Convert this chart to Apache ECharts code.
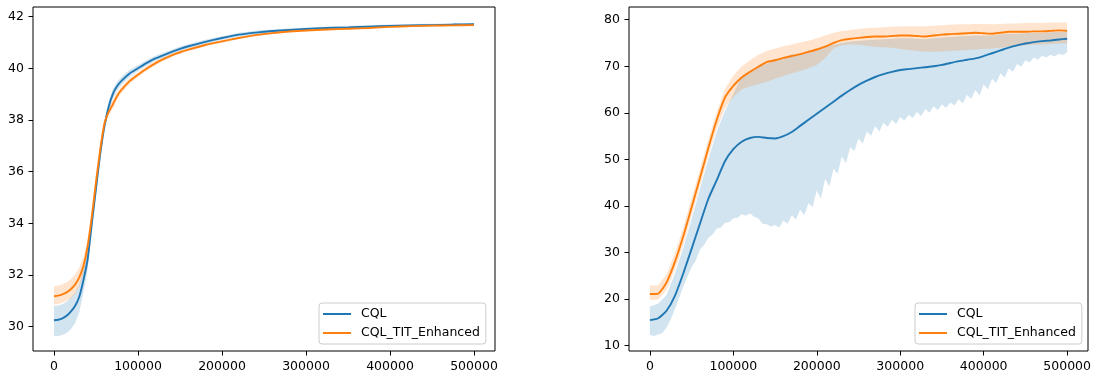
<!DOCTYPE html>
<html>
<head>
<meta charset="utf-8">
<script src="https://cdn.jsdelivr.net/npm/echarts@6/dist/echarts.min.js"></script>
<style>
  html, body { margin: 0; padding: 0; background: #fff; }
  #chart { width: 1094px; height: 373px; }
</style>
</head>
<body>
<div id="chart"></div>
<script>
// left panel
const stepsL = [0, 5000, 10000, 15000, 20000, 25000, 30000, 35000, 40000, 45000, 50000, 55000, 60000, 65000,
  70000, 75000, 80000, 90000, 100000, 110000, 120000, 130000, 140000, 150000, 160000, 180000, 200000, 220000,
  240000, 260000, 280000, 300000, 325000, 350000, 375000, 400000, 425000, 450000, 475000, 500000];
const cqlL = [30.25, 30.27, 30.32, 30.42, 30.58, 30.80, 31.15, 31.8, 32.6, 34.0, 35.35, 36.7, 37.75, 38.5,
  39.0, 39.3, 39.5, 39.8, 40.0, 40.2, 40.37, 40.5, 40.63, 40.75, 40.85, 41.02, 41.17, 41.3,
  41.38, 41.44, 41.48, 41.52, 41.56, 41.58, 41.61, 41.64, 41.66, 41.67, 41.69, 41.7];
const cqlUpL = [30.80, 30.82, 30.87, 30.97, 31.13, 31.32, 31.63, 32.22, 32.96, 34.3, 35.61, 36.94, 37.97, 38.7,
  39.19, 39.47, 39.66, 39.94, 40.12, 40.31, 40.47, 40.6, 40.72, 40.84, 40.93, 41.1, 41.24, 41.37,
  41.45, 41.5, 41.54, 41.58, 41.62, 41.64, 41.66, 41.69, 41.71, 41.72, 41.74, 41.75];
const cqlLoL = [29.63, 29.64, 29.68, 29.76, 29.9, 30.12, 30.55, 31.3, 32.2, 33.65, 35.07, 36.45, 37.55, 38.3,
  38.81, 39.13, 39.34, 39.66, 39.88, 40.09, 40.27, 40.4, 40.54, 40.66, 40.77, 40.94, 41.1, 41.23,
  41.31, 41.38, 41.42, 41.46, 41.5, 41.52, 41.56, 41.59, 41.61, 41.62, 41.64, 41.65];
const titL = [31.18, 31.2, 31.25, 31.33, 31.45, 31.63, 31.9, 32.35, 33.1, 34.25, 35.6, 36.85, 37.85, 38.3,
  38.6, 38.92, 39.15, 39.5, 39.75, 39.98, 40.18, 40.35, 40.5, 40.62, 40.72, 40.9, 41.04, 41.17,
  41.28, 41.36, 41.42, 41.46, 41.5, 41.53, 41.56, 41.6, 41.63, 41.65, 41.66, 41.67];
const titUpL = [31.57, 31.59, 31.64, 31.72, 31.84, 32.02, 32.28, 32.7, 33.38, 34.48, 35.8, 37.02, 38.0, 38.43,
  38.76, 39.06, 39.28, 39.61, 39.85, 40.07, 40.26, 40.42, 40.56, 40.68, 40.78, 40.95, 41.09, 41.21,
  41.32, 41.4, 41.45, 41.49, 41.53, 41.56, 41.59, 41.63, 41.66, 41.68, 41.69, 41.7];
const titLoL = [30.86, 30.88, 30.93, 31.0, 31.1, 31.27, 31.55, 32.02, 32.8, 34.0, 35.4, 36.68, 37.7, 38.17,
  38.44, 38.78, 39.02, 39.39, 39.65, 39.89, 40.1, 40.28, 40.44, 40.56, 40.66, 40.85, 40.99, 41.13,
  41.24, 41.32, 41.39, 41.43, 41.47, 41.5, 41.53, 41.57, 41.6, 41.62, 41.63, 41.64];

// right panel
const stepsR = Array.from({ length: 51 }, (_, i) => i * 10000);
const stepsR5 = Array.from({ length: 101 }, (_, i) => i * 5000);
const cqlR = [15.5, 15.9, 17.5, 20.7, 25.5, 30.8, 36.2, 41.5, 45.5, 49.6,
  52.2, 53.8, 54.6, 54.85, 54.6, 54.5, 55.0, 55.9, 57.2, 58.5,
  59.8, 61.1, 62.4, 63.7, 64.9, 66.0, 66.9, 67.7, 68.3, 68.8,
  69.2, 69.4, 69.6, 69.8, 70.0, 70.3, 70.7, 71.1, 71.4, 71.7,
  72.2, 72.8, 73.4, 74.0, 74.5, 74.9, 75.2, 75.4, 75.55, 75.75, 75.9];
const cqlUpR = [18.4, 19.0, 20.9, 25.5, 31.0, 37.2, 43.6, 50.0, 55.9, 60.4,
  64.0, 67.9, 68.4, 70.3, 70.5, 71.6, 71.5, 72.6, 72.4, 73.4,
  73.4, 74.5, 74.6, 75.0, 75.3, 75.5, 75.6, 75.7, 75.8, 75.9,
  76.0, 76.0, 75.9, 75.8, 76.0, 76.2, 76.3, 76.4, 76.5, 76.6,
  76.6, 76.6, 76.8, 77.0, 77.0, 77.1, 77.2, 77.2, 77.3, 77.4, 77.4];
const cqlLoR = [12.3, 12.1, 12.4, 12.7, 13.9, 15.6, 17.9, 20.2, 22.7, 24.8,
  26.9, 28.3, 30.6, 31.6, 33.2, 33.9, 35.1, 35.3, 36.4, 36.5,
  37.3, 37.5, 38.2, 37.9, 38.4, 37.7, 37.3, 36.2, 36.1, 35.6,
  35.9, 35.4, 36.9, 36.2, 38.0, 37.1, 39.2, 38.0, 40.6, 39.8,
  43.3, 41.6, 45.8, 44.2, 48.0, 46.9, 50.6, 49.2, 52.6, 51.8,
  54.5, 53.4, 56.0, 55.1, 57.1, 56.0, 57.9, 57.0, 58.5, 57.6,
  59.1, 58.3, 59.6, 58.9, 60.2, 59.3, 60.8, 60.0, 61.4, 60.6,
  61.8, 61.1, 62.2, 61.6, 62.9, 62.0, 63.9, 63.0, 64.9, 63.8,
  66.1, 65.0, 67.3, 66.4, 68.5, 67.6, 69.5, 68.8, 70.5, 69.9,
  71.3, 70.8, 71.9, 71.4, 72.3, 71.9, 72.5, 72.1, 72.7, 72.4, 73.0];
const titR = [21.1, 21.2, 23.6, 28.0, 33.5, 39.7, 46.0, 52.4, 58.4, 63.3,
  65.8, 67.6, 68.8, 69.9, 70.9, 71.3, 71.8, 72.2, 72.6, 73.1,
  73.6, 74.2, 75.0, 75.6, 75.9, 76.1, 76.3, 76.4, 76.4, 76.5,
  76.6, 76.6, 76.5, 76.4, 76.6, 76.8, 76.9, 77.0, 77.1, 77.2,
  77.1, 77.0, 77.2, 77.4, 77.4, 77.4, 77.5, 77.5, 77.6, 77.7, 77.6];
const titUpR = [22.9, 23.0, 25.3, 29.9, 35.4, 41.6, 47.9, 54.2, 60.2, 65.2,
  68.0, 70.0, 71.3, 72.5, 73.3, 73.8, 74.3, 74.7, 75.1, 75.5,
  76.0, 76.6, 77.2, 77.6, 77.8, 78.0, 78.2, 78.3, 78.4, 78.5,
  78.6, 78.6, 78.6, 78.6, 78.7, 78.8, 78.9, 79.0, 79.0, 79.1,
  79.1, 79.0, 79.1, 79.2, 79.2, 79.3, 79.3, 79.3, 79.4, 79.4, 79.4];
const titLoR = [19.8, 19.9, 22.0, 26.3, 31.7, 37.9, 44.2, 50.6, 56.5, 61.0,
  63.4, 65.0, 65.7, 66.2, 66.7, 67.3, 67.9, 68.5, 69.0, 69.6,
  70.3, 71.8, 73.8, 74.5, 74.7, 74.6, 74.4, 74.2, 74.1, 74.0,
  73.7, 73.5, 73.3, 73.1, 73.1, 73.2, 73.3, 73.4, 73.5, 73.6,
  73.7, 73.8, 74.0, 74.2, 74.3, 74.5, 74.6, 74.7, 74.8, 74.9, 74.9];

const xTicks = [0, 100000, 200000, 300000, 400000, 500000];
const yTicksL = [30, 32, 34, 36, 38, 40, 42];
const yTicksR = [10, 20, 30, 40, 50, 60, 70, 80];
const names = ['CQL', 'CQL_TIT_Enhanced'];

const BLUE = '#1f77b4';
const ORANGE = '#ff7f0e';
const FONT = 'DejaVu Sans';
const FS = 12.5;

const pairs = (xs, ys) => xs.map((x, i) => [x, ys[i]]);

// fill_between as a polygon through the axis scales
function band(idx, xsHi, hi, xsLo, lo, fill) {
  return {
    type: 'custom',
    xAxisIndex: idx,
    yAxisIndex: idx,
    silent: true,
    z: 1,
    data: [[xsHi[0], hi[0]]],
    renderItem: (params, api) => {
      const pts = xsHi.map((x, i) => api.coord([x, hi[i]]));
      for (let i = xsLo.length - 1; i >= 0; i--) pts.push(api.coord([xsLo[i], lo[i]]));
      return { type: 'polygon', shape: { points: pts }, style: { fill: fill } };
    }
  };
}

function line(idx, name, xs, ys, color) {
  return {
    type: 'line',
    name: name,
    xAxisIndex: idx,
    yAxisIndex: idx,
    data: pairs(xs, ys),
    symbol: 'none',
    showSymbol: false,
    smooth: 0.2,
    z: 3,
    lineStyle: { width: 1.9, color: color },
    itemStyle: { color: color }
  };
}

function xAxis(idx) {
  return {
    type: 'value',
    gridIndex: idx,
    min: -25000,
    max: 525000,
    axisLine: { show: false, onZero: false },
    splitLine: { show: false },
    axisTick: { show: true, length: 4.5, customValues: xTicks, lineStyle: { color: '#000' } },
    axisLabel: {
      customValues: xTicks, margin: 9, color: '#000', fontFamily: FONT, fontSize: FS,
      formatter: v => String(v)
    }
  };
}

function yAxis(idx, min, max, ticks) {
  return {
    type: 'value',
    gridIndex: idx,
    min: min,
    max: max,
    axisLine: { show: false, onZero: false },
    splitLine: { show: false },
    axisTick: { show: true, length: 4.5, customValues: ticks, lineStyle: { color: '#000' } },
    axisLabel: {
      customValues: ticks, margin: 9, color: '#000', fontFamily: FONT, fontSize: FS,
      formatter: v => String(v)
    }
  };
}

function legend(left) {
  return {
    data: names,
    orient: 'vertical',
    left: left,
    top: 303,
    icon: 'rect',
    itemWidth: 28,
    itemHeight: 2,
    itemGap: 5,
    padding: [4, 6, 4, 4],
    backgroundColor: 'rgba(255,255,255,0.8)',
    borderColor: '#cccccc',
    borderWidth: 1,
    borderRadius: 3,
    selectedMode: false,
    textStyle: { color: '#000', fontFamily: FONT, fontSize: FS, lineHeight: 14, padding: [0, 0, 0, 5] }
  };
}

const chart = echarts.init(document.getElementById('chart'), null, { renderer: 'canvas' });
chart.setOption({
  animation: false,
  backgroundColor: '#fff',
  grid: [
    { left: 33, top: 7, width: 462, height: 344, show: true, borderColor: '#000', borderWidth: 1, backgroundColor: 'transparent' },
    { left: 629, top: 7, width: 462, height: 344, show: true, borderColor: '#000', borderWidth: 1, backgroundColor: 'transparent' }
  ],
  xAxis: [xAxis(0), xAxis(1)],
  yAxis: [yAxis(0, 29.06, 42.37, yTicksL), yAxis(1, 8.86, 82.73, yTicksR)],
  legend: [legend(319), legend(915)],
  series: [
    band(0, stepsL, cqlUpL, stepsL, cqlLoL, 'rgba(31,119,180,0.2)'),
    band(0, stepsL, titUpL, stepsL, titLoL, 'rgba(255,127,14,0.2)'),
    line(0, names[0], stepsL, cqlL, BLUE),
    line(0, names[1], stepsL, titL, ORANGE),
    band(1, stepsR, cqlUpR, stepsR5, cqlLoR, 'rgba(31,119,180,0.2)'),
    band(1, stepsR, titUpR, stepsR, titLoR, 'rgba(255,127,14,0.2)'),
    line(1, names[0], stepsR, cqlR, BLUE),
    line(1, names[1], stepsR, titR, ORANGE)
  ]
});
</script>
</body>
</html>
